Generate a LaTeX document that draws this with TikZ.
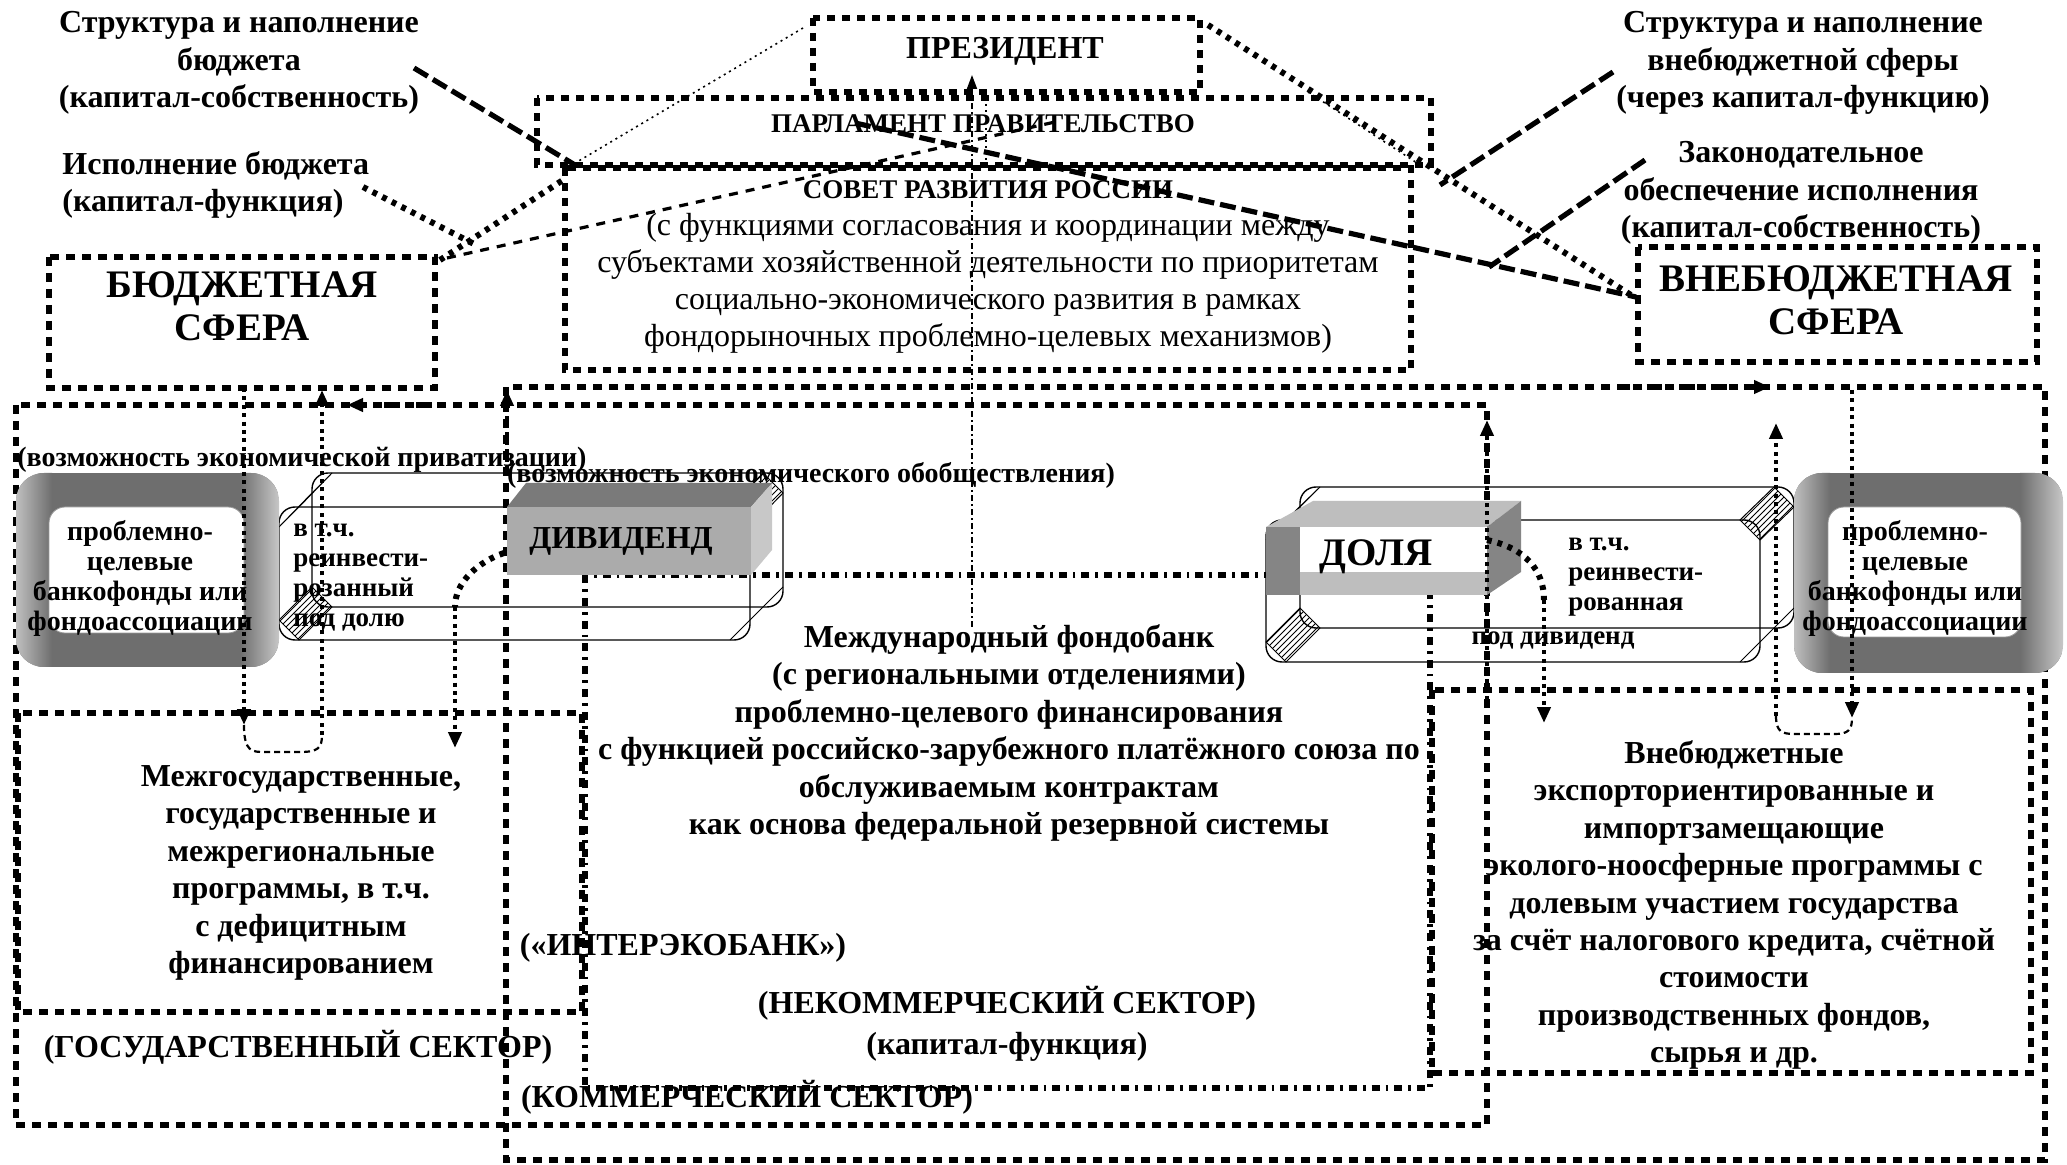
\documentclass[tikz,border=0pt]{standalone}
\usepackage{fontspec}
\setmainfont{Liberation Serif}
\usetikzlibrary{arrows.meta,patterns}
\definecolor{dvfront}{HTML}{ABABAB}
\definecolor{dvtop}{HTML}{7A7A7A}
\definecolor{dvright}{HTML}{C8C8C8}
\definecolor{dlbar}{HTML}{BEBEBE}
\definecolor{dldark}{HTML}{858585}
\definecolor{frgray}{HTML}{6E6E6E}
\newcommand{\fBig}{\fontsize{19.5pt}{21.5pt}\selectfont\bfseries}
\newcommand{\fMain}{\fontsize{16pt}{18.7pt}\selectfont\bfseries}
\newcommand{\fReg}{\fontsize{16pt}{18.4pt}\selectfont}
\newcommand{\fMid}{\fontsize{13.5pt}{18.4pt}\selectfont\bfseries}
\newcommand{\fSm}{\fontsize{14pt}{15pt}\selectfont\bfseries}
\newcommand{\fTube}{\fontsize{13.5pt}{15pt}\selectfont\bfseries}
\begin{document}
\begin{tikzpicture}[x=0.5pt,y=-0.5pt,
  sqline/.style={line width=3.4pt, dash pattern=on 4pt off 3.5pt},
  slline/.style={line width=3pt, dash pattern=on 4.5pt off 3.5pt},
  ddline/.style={line width=3pt, dash pattern=on 4pt off 3pt on 1.4pt off 3pt},
  hdot/.style={line width=3pt, dash pattern=on 2.4pt off 3pt},
  mdot/.style={line width=2pt, dash pattern=on 2pt off 2.2pt},
  hslant/.style={line width=2.6pt, dash pattern=on 8pt off 3pt},
  mslant/.style={line width=1.6pt, dash pattern=on 4.5pt off 4pt},
  tdot/.style={line width=0.8pt, dash pattern=on 1pt off 2pt},
  tdash/.style={line width=1.1pt, dash pattern=on 3pt off 2pt},
  ddthin/.style={line width=0.9pt, dash pattern=on 3pt off 1.5pt on 1pt off 1.5pt},
  tip/.style={-{Triangle[length=8pt,width=6.5pt]}},
  txt/.style={inner sep=0pt, align=center},
  hatch/.style={pattern=north east lines, draw, line width=0.5pt}
]
\useasboundingbox (0,0) rectangle (2067,1165);
\fill[white] (0,0) rectangle (2067,1165);

% ---------- outer sector frames ----------
\draw[slline] (506,387) rectangle (2045,1160);
\draw[slline] (16,405) rectangle (1487,1125);
\draw[slline] (18,713) rectangle (582,1012);
\draw[slline] (1432,690) rectangle (2031,1073);
\draw[ddline] (585,575) rectangle (1430,1088);

% ---------- top boxes ----------
\draw[sqline] (813,18) rectangle (1200,92);
\draw[sqline] (537,98) rectangle (1431,165);
\draw[sqline] (565,168) rectangle (1411,370);
\draw[slline] (49,257) rectangle (435,388);
\draw[slline] (1638,247) rectangle (2037,362);

% ---------- tube 1 ----------
\draw[line width=0.7pt, rounded corners=8pt] (312,473) rectangle (783,607);
\draw[line width=0.7pt, rounded corners=8pt] (279,507) rectangle (750,640);
\draw[hatch] (279,527) -- (312,493) -- (332,473) -- (299,507) -- cycle;
\draw[hatch] (279,620) -- (312,587) -- (332,607) -- (299,640) -- cycle;
\draw[hatch] (730,507) -- (763,473) -- (783,493) -- (750,527) -- cycle;
\draw[hatch] (750,620) -- (783,587) -- (763,607) -- (730,640) -- cycle;

% ---------- tube 2 ----------
\draw[line width=0.7pt, rounded corners=8pt] (1300,487) rectangle (1794,628);
\draw[line width=0.7pt, rounded corners=8pt] (1266,520) rectangle (1760,662);
\draw[hatch] (1266,540) -- (1300,507) -- (1320,487) -- (1286,520) -- cycle;
\draw[hatch] (1266,642) -- (1300,608) -- (1320,628) -- (1286,662) -- cycle;
\draw[hatch] (1740,520) -- (1774,487) -- (1794,507) -- (1760,540) -- cycle;
\draw[hatch] (1760,642) -- (1794,608) -- (1774,628) -- (1740,662) -- cycle;

% ---------- DIVIDEND box ----------
\fill[dvtop] (507,507) -- (526,483) -- (772,483) -- (751,507) -- cycle;
\fill[dvright] (751,507) -- (772,483) -- (772,550) -- (751,575) -- cycle;
\fill[dvfront] (507,507) rectangle (751,575);

% ---------- DOLYA box ----------
\fill[white] (1300,527) rectangle (1487,572);
\fill[dlbar] (1266,527) -- (1313,501) -- (1521,501) -- (1487,527) -- cycle;
\fill[dldark] (1487,527) -- (1521,501) -- (1521,572) -- (1487,595) -- cycle;
\fill[dlbar] (1300,572) rectangle (1487,595);
\fill[dldark] (1266,527) rectangle (1300,595);

% ---------- frames ----------
\begin{scope}
\clip[rounded corners=14pt] (16,473) rectangle (279,667);
\fill[frgray] (16,473) rectangle (279,667);
\shade[left color=black!25, right color=black!57] (16,473) rectangle (52,667);
\shade[left color=black!57, right color=black!22] (240,473) rectangle (279,667);
\end{scope}
\fill[white, draw=black!40, rounded corners=8pt] (49,507) rectangle (244,633);
\begin{scope}
\clip[rounded corners=14pt] (1794,473) rectangle (2063,673);
\fill[frgray] (1794,473) rectangle (2063,673);
\shade[left color=black!25, right color=black!57] (1794,473) rectangle (1830,673);
\shade[left color=black!57, right color=black!22] (2020,473) rectangle (2063,673);
\end{scope}
\fill[white, draw=black!40, rounded corners=8pt] (1828,507) rectangle (2021,637);

% ---------- texts ----------
\node[txt, font=\fMain] (tl1) at (239,63) {Структура и наполнение\\бюджета\\(капитал-собственность)};
\node[txt, font=\fMain, anchor=west, align=left] (tl2) at (62,185) {Исполнение бюджета\\(капитал-функция)};
\node[txt, font=\fMain] (tr1) at (1803,63) {Структура и наполнение\\внебюджетной сферы\\(через капитал-функцию)};
\node[txt, font=\fMain] (tr2) at (1801,193) {Законодательное\\обеспечение исполнения\\(капитал-собственность)};
\node[txt, font=\fMain] (pres) at (1005,51) {ПРЕЗИДЕНТ};
\node[txt, font=\fMid] (parl) at (983,124) {ПАРЛАМЕНТ ПРАВИТЕЛЬСТВО};
\node[txt, font=\fReg] (sovet) at (988,267) {{\fMid СОВЕТ РАЗВИТИЯ РОССИИ}\\(с функциями согласования и координации между\\субъектами хозяйственной деятельности по приоритетам\\социально-экономического развития в рамках\\фондорыночных проблемно-целевых механизмов)};
\node[txt, font=\fBig] (bsf) at (242,306) {БЮДЖЕТНАЯ\\СФЕРА};
\node[txt, font=\fBig] (vbsf) at (1836,300) {ВНЕБЮДЖЕТНАЯ\\СФЕРА};
\node[txt, font=\fSm] (priv) at (302,460) {(возможность экономической приватизации)};
\node[txt, font=\fSm] (obob) at (811,475) {(возможность экономического обобществления)};
\node[txt, font=\fSm] (pcl) at (140,578) {проблемно-\\целевые\\банкофонды или\\фондоассоциации};
\node[txt, font=\fSm] (pcr) at (1915,578) {проблемно-\\целевые\\банкофонды или\\фондоассоциации};
\node[txt, font=\fTube, anchor=west, align=left] (tube1) at (293,578) {в т.ч.\\реинвести-\\розанный\\под долю};
\node[txt, font=\fMain] (div) at (621,541) {ДИВИДЕНД};
\node[txt, font=\fBig] (dol) at (1376,557) {ДОЛЯ};
\node[txt, font=\fTube, anchor=west, align=left] (tube2) at (1568,577) {в т.ч.\\реинвести-\\рованная};
\node[txt, font=\fTube] (poddiv) at (1553,640) {под дивиденд};
\node[txt, font=\fMain] (fbank) at (1009,733) {Международный фондобанк\\(с региональными отделениями)\\проблемно-целевого финансирования\\с функцией российско-зарубежного платёжного союза по\\обслуживаемым контрактам\\как основа федеральной резервной системы};
\node[txt, font=\fMain] (mezh) at (301,873) {Межгосударственные,\\государственные и\\межрегиональные\\программы, в т.ч.\\с дефицитным\\финансированием};
\node[txt, font=\fMain] (vneb) at (1734,905) {Внебюджетные\\экспорториентированные и\\импортзамещающие\\эколого-ноосферные программы с\\долевым участием государства\\за счёт налогового кредита, счётной\\стоимости\\производственных фондов,\\сырья и др.};
\node[txt, font=\fMain] (inter) at (683,948) {(«ИНТЕРЭКОБАНК»)};
\node[txt, font=\fMain] (nekom) at (1007,1003) {(НЕКОММЕРЧЕСКИЙ СЕКТОР)};
\node[txt, font=\fMain] (kapf) at (1007,1047) {(капитал-функция)};
\node[txt, font=\fMain] (gos) at (298,1047) {(ГОСУДАРСТВЕННЫЙ СЕКТОР)};
\node[txt, font=\fMain] (kom) at (747,1097) {(КОММЕРЧЕСКИЙ СЕКТОР)};

% ---------- connector end points ----------
\coordinate (l1a) at (414,68);   \coordinate (l1b) at (575,165);
\coordinate (l2a) at (363,187);  \coordinate (l2b) at (474,244);
\coordinate (l3a) at (440,260);  \coordinate (l3b) at (563,180);
\coordinate (l4a) at (447,258);  \coordinate (l4b) at (1055,122);
\coordinate (l5a) at (803,28);   \coordinate (l5b) at (577,162);
\coordinate (r1a) at (1208,25);  \coordinate (r1b) at (1634,297);
\coordinate (r1c) at (1308,92);  \coordinate (r1d) at (1417,163);
\coordinate (r2a) at (855,123);  \coordinate (r2b) at (1636,297);
\coordinate (r3a) at (1613,72);  \coordinate (r3b) at (1440,185);
\coordinate (r4a) at (1645,160); \coordinate (r4b) at (1489,267);
\coordinate (pva) at (972,627);  \coordinate (pvb) at (972,75);
\coordinate (pta) at (986,92);   \coordinate (ptb) at (986,160);

% ---------- top connectors ----------
\draw[hslant] (l1a) -- (l1b);
\draw[hdot] (l2a) -- (l2b);
\draw[hdot] (l3a) -- (l3b);
\draw[mslant] (l4a) -- (l4b);
\draw[tdot] (l5a) -- (l5b);
\draw[hdot] (r1a) -- (r1b);
\draw[tdot] (r1c) -- (r1d);
\draw[hslant] (r2a) -- (r2b);
\draw[hslant] (r3a) -- (r3b);
\draw[hslant] (r4a) -- (r4b);
\draw[ddthin, -{Triangle[length=7pt,width=5pt]}] (pva) -- (pvb);
\draw[tdot] (pta) -- (ptb);

% ---------- lower arrows, left ----------
\coordinate (v1a) at (244,388); \coordinate (v1b) at (244,725);
\coordinate (v2a) at (322,735); \coordinate (v2b) at (322,390);
\coordinate (v3a) at (507,470); \coordinate (v3b) at (507,390);
\coordinate (h1a) at (432,405); \coordinate (h1b) at (347,405);
\coordinate (dva) at (504,553); \coordinate (dvb) at (455,607); \coordinate (dvc) at (455,748);
\draw[mdot, tip] (v1a) -- (v1b);
\draw[mdot, tip] (v2a) -- (v2b);
\draw[mdot, tip] (v3a) -- (v3b);
\draw[hdot, tip] (h1a) -- (h1b);
\draw[tdash] (v1b) .. controls (244,752) and (252,752) .. (265,752) -- (300,752) .. controls (318,752) and (322,748) .. (v2a);
\draw[hdot] (dva) .. controls (478,562) and (455,582) .. (dvb);
\draw[mdot, tip] (dvb) -- (dvc);

% ---------- lower arrows, right ----------
\coordinate (v4a) at (1487,700); \coordinate (v4b) at (1487,420);
\coordinate (dla) at (1487,540); \coordinate (dlb) at (1544,600); \coordinate (dlc) at (1544,723);
\coordinate (v6a) at (1776,716); \coordinate (v6b) at (1776,423);
\coordinate (v7a) at (1852,390); \coordinate (v7b) at (1852,718);
\coordinate (h2a) at (1625,387); \coordinate (h2b) at (1770,387);
\draw[mdot, tip] (v4a) -- (v4b);
\draw[hdot] (dla) .. controls (1525,548) and (1544,570) .. (dlb);
\draw[mdot, tip] (dlb) -- (dlc);
\draw[mdot, tip] (v6a) -- (v6b);
\draw[mdot, tip] (v7a) -- (v7b);
\draw[hdot, tip] (h2a) -- (h2b);
\draw[tdash] (v6a) .. controls (1776,732) and (1782,734) .. (1795,734) -- (1835,734) .. controls (1848,734) and (1852,730) .. (1852,718);
\end{tikzpicture}
\end{document}
